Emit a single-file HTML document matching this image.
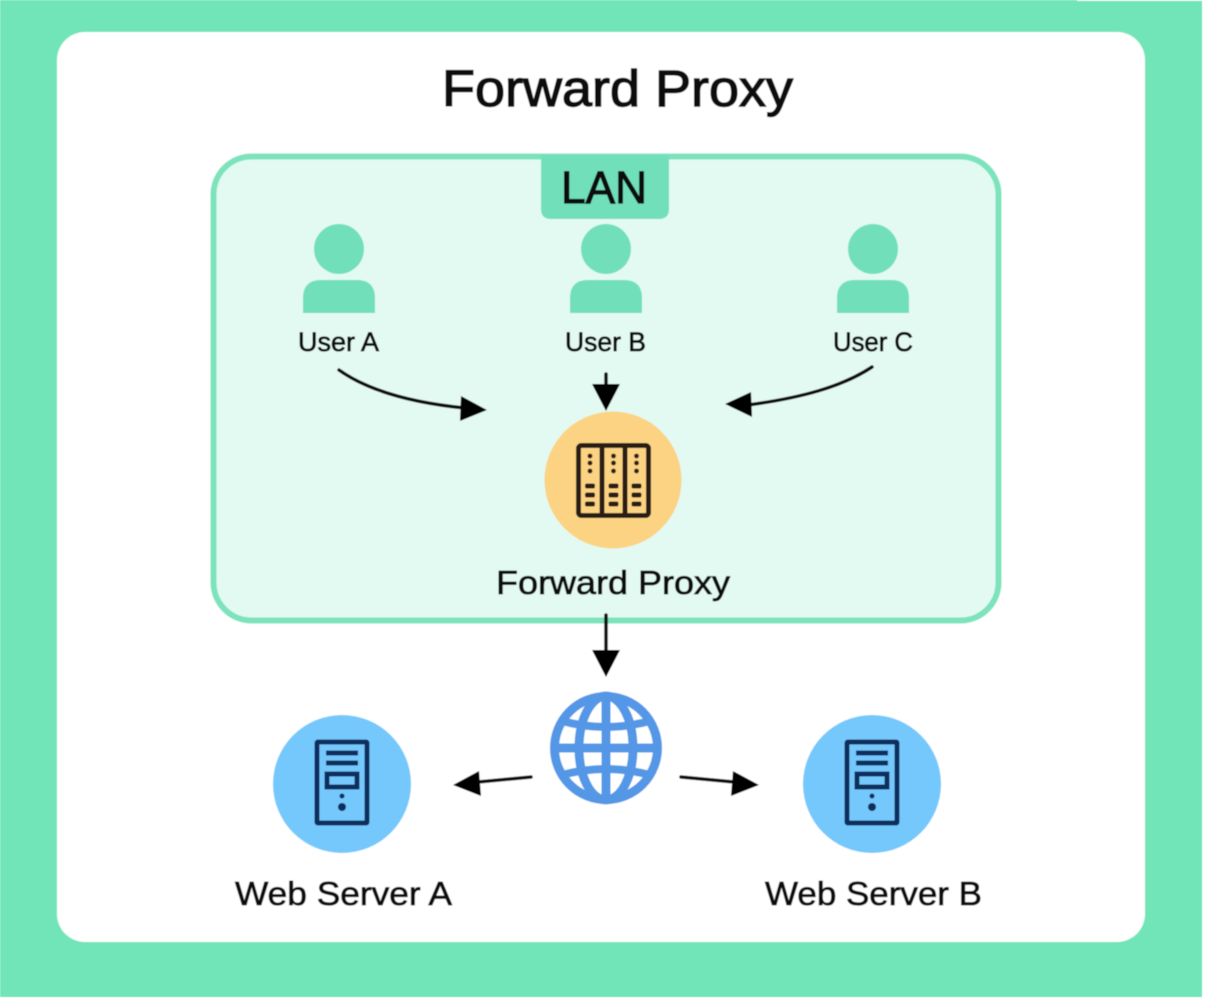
<!DOCTYPE html>
<html><head><meta charset="utf-8"><title>Forward Proxy</title>
<style>html,body{margin:0;padding:0;background:#fff}svg{display:block}text{font-family:"Liberation Sans",sans-serif;fill:#111;stroke:#111;stroke-width:.8px}</style>
</head><body>
<svg width="1205" height="1000" viewBox="0 0 1205 1000" xmlns="http://www.w3.org/2000/svg">
<defs>
<filter id="b" x="-5%" y="-5%" width="110%" height="110%"><feGaussianBlur stdDeviation="0.55"/></filter>
<g id="user"><circle cx="0" cy="0" r="25" fill="#71E0BA"/><path d="M-36 64V49Q-36 31-18 31H18Q36 31 36 49V64Z" fill="#71E0BA"/></g>
<g id="srv" fill="none" stroke="#0F2F5E">
<rect x="-25" y="-41" width="50" height="81" stroke-width="5" rx="1"/>
<path d="M-16 -30H16M-16 -20H16" stroke-width="5"/>
<rect x="-15" y="-9" width="30" height="13" stroke-width="5"/>
<circle cx="0" cy="13" r="2.500" fill="#0F2F5E" stroke="none"/>
<circle cx="0" cy="24" r="4" fill="#0F2F5E" stroke="none"/>
</g>
</defs>
<rect width="1205" height="1000" fill="#fff"/>
<g filter="url(#b)">
<rect x="0" y="1" width="1202" height="996" fill="#71E5B7"/>
<rect x="0" y="0" width="1077" height="2" fill="#71E5B7"/>
<rect x="57" y="32" width="1088" height="910" rx="28" fill="#fff"/>
<rect x="213.500" y="156.500" width="785" height="464" rx="38" fill="#E3FAF2" stroke="#7BE3BD" stroke-width="6"/>
<path d="M541 155H669V209Q669 219 659 219H551Q541 219 541 209Z" fill="#71E0BA"/>
<use href="#user" x="339" y="249"/>
<use href="#user" x="606" y="249"/>
<use href="#user" x="873" y="249"/>
<!-- arrows -->
<g fill="none" stroke="#111" stroke-width="3.500" stroke-linecap="round">
<path d="M339 370C370 392 415 403 465 408"/>
<path d="M872 367C842 387 800 398 748 405"/>
<path d="M606 374V385"/>
<path d="M606 615V652"/>
<path d="M531 777L478 782"/>
<path d="M681 777L734 782"/>
</g>
<g fill="#000">
<path d="M487 410L461 396L460 421Z"/>
<path d="M725 404L751 392L752 417Z"/>
<path d="M606 411L592 384H620Z"/>
<path d="M606 677L592 650H620Z"/>
<path d="M453 785L479 771L481 796Z"/>
<path d="M759 785L733 771L731 796Z"/>
</g>
<!-- proxy -->
<circle cx="613" cy="480" r="68.5" fill="#FBD382"/>
<g fill="none" stroke="#2B1A12" stroke-width="5">
<rect x="578.500" y="445.500" width="70" height="70" rx="3"/>
<path d="M602 445V516M625 445V516"/>
</g>
<g fill="#2B1A12">
<g id="rk"><circle cx="590" cy="456" r="2.400"/><circle cx="590" cy="463" r="2.400"/><circle cx="590" cy="471" r="2.400"/><rect x="585" y="483.500" width="10" height="5" rx="2"/><rect x="585" y="492.500" width="10" height="5" rx="2"/><rect x="585" y="501.500" width="10" height="5" rx="2"/></g>
<use href="#rk" x="23.500"/><use href="#rk" x="46.500"/>
</g>
<!-- globe -->
<g fill="none" stroke="#5397E6" stroke-width="9">
<circle cx="606" cy="748" r="51.500"/>
<ellipse cx="606" cy="748" rx="27" ry="52"/>
<path d="M606 696V800M554 748H658" />
<path d="M562 721Q606 733 650 721M562 775Q606 763 650 775" stroke-width="8"/>
</g>
<!-- servers -->
<circle cx="342" cy="784" r="69" fill="#74C8FC"/>
<circle cx="872" cy="784" r="69" fill="#74C8FC"/>
<use href="#srv" x="342" y="783"/>
<use href="#srv" x="872" y="783"/>
<!-- labels -->
<text x="442" y="106" font-size="51" textLength="351" lengthAdjust="spacingAndGlyphs" style="stroke-width:1.400px">Forward Proxy</text>
<text x="561" y="203" font-size="45" textLength="86" lengthAdjust="spacingAndGlyphs" style="stroke-width:1.200px">LAN</text>
<text x="298" y="351" font-size="27" textLength="81" lengthAdjust="spacingAndGlyphs">User A</text>
<text x="565" y="351" font-size="27" textLength="81" lengthAdjust="spacingAndGlyphs">User B</text>
<text x="833" y="351" font-size="27" textLength="80" lengthAdjust="spacingAndGlyphs">User C</text>
<text x="496" y="594" font-size="33" textLength="234" lengthAdjust="spacingAndGlyphs">Forward Proxy</text>
<text x="235" y="905" font-size="33" textLength="217" lengthAdjust="spacingAndGlyphs">Web Server A</text>
<text x="765" y="905" font-size="33" textLength="217" lengthAdjust="spacingAndGlyphs">Web Server B</text>
</g>
</svg>
</body></html>
